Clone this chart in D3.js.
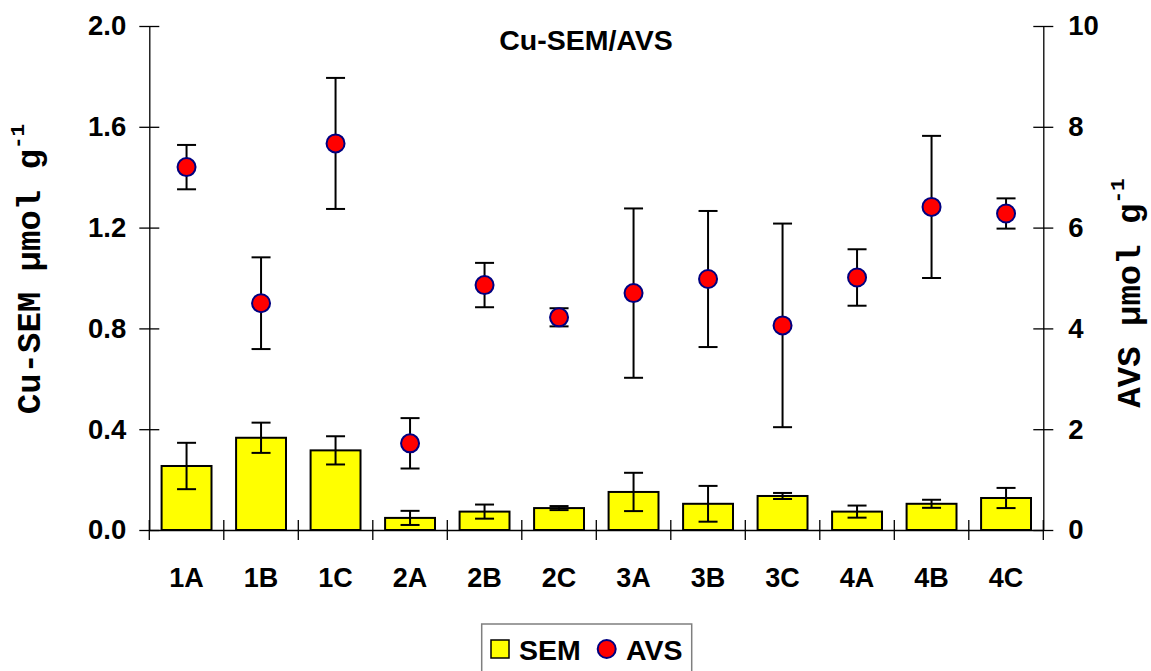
<!DOCTYPE html>
<html>
<head>
<meta charset="utf-8">
<script src="https://cdn.jsdelivr.net/npm/d3@7/dist/d3.min.js"></script>
<style>
  html, body { margin: 0; padding: 0; background: #fff; }
  svg { display: block; }
  .tick text { font-family: "Liberation Sans", Arial, sans-serif; font-weight: bold; }
</style>
</head>
<body>
<svg id="chart" width="1151" height="671"></svg>
<script>
// Sampling sites
const sites = ["1A", "1B", "1C", "2A", "2B", "2C", "3A", "3B", "3C", "4A", "4B", "4C"];

// Cu-SEM (µmol g-1), mean and standard deviation
const semMean = [0.254, 0.366, 0.316, 0.048, 0.073, 0.087, 0.151, 0.104, 0.135, 0.073, 0.104, 0.127];
const semSd   = [0.092, 0.060, 0.056, 0.028, 0.028, 0.008, 0.076, 0.071, 0.012, 0.024, 0.016, 0.040];

// AVS (µmol g-1), mean and standard deviation
const avsMean = [7.20, 4.50, 7.67, 1.72, 4.86, 4.22, 4.70, 4.98, 4.06, 5.01, 6.41, 6.28];
const avsSd   = [0.44, 0.91, 1.30, 0.50, 0.44, 0.18, 1.68, 1.35, 2.02, 0.56, 1.41, 0.30];

// Axis tick values
const leftTicks  = [0, 0.4, 0.8, 1.2, 1.6, 2.0];
const rightTicks = [0, 2, 4, 6, 8, 10];

const svg = d3.select("#chart");
const plotLeft = 149.3, plotRight = 1043.3, plotTop = 26, plotBottom = 530;

const x = d3.scaleBand().domain(sites).range([plotLeft, plotRight]).padding(0);
const yL = d3.scaleLinear().domain([0, 2]).range([plotBottom, plotTop]);
const yR = d3.scaleLinear().domain([0, 10]).range([plotBottom, plotTop]);

const sans = '"Liberation Sans", Arial, sans-serif';
const mono = '"Liberation Mono", "Courier New", monospace';

// Left axis with ticks crossing the line
const gL = svg.append("g").attr("transform", `translate(${plotLeft},0)`)
  .call(d3.axisLeft(yL).tickValues(leftTicks).tickSize(10).tickSizeOuter(0)
        .tickPadding(13).tickFormat(d3.format(".1f")));
gL.selectAll(".tick line").attr("x1", 10).attr("stroke-width", 1.3);
gL.select(".domain").attr("stroke-width", 1.3);
gL.selectAll(".tick text").attr("font-size", 27.5).attr("fill", "#000");

// Right axis
const gR = svg.append("g").attr("transform", `translate(${plotRight},0)`)
  .call(d3.axisRight(yR).tickValues(rightTicks).tickSize(10).tickSizeOuter(0)
        .tickPadding(15).tickFormat(d3.format("d")));
gR.selectAll(".tick line").attr("x1", -10).attr("stroke-width", 1.3);
gR.select(".domain").attr("stroke-width", 1.3);
gR.selectAll(".tick text").attr("font-size", 27.5).attr("fill", "#000");

// Bottom axis: labels centred under each site, ticks at category boundaries
const gB = svg.append("g").attr("transform", `translate(0,${plotBottom})`)
  .call(d3.axisBottom(x).tickSize(0).tickPadding(38));
gB.select(".domain").attr("stroke-width", 1.3);
gB.selectAll(".tick text").attr("font-size", 27).attr("fill", "#000");

const bounds = sites.map(s => x(s)).concat([x(sites[sites.length - 1]) + x.bandwidth()]);
svg.append("g").selectAll("line").data(bounds).join("line")
  .attr("x1", d => d).attr("x2", d => d)
  .attr("y1", plotBottom - 10).attr("y2", plotBottom + 10)
  .attr("stroke", "#000").attr("stroke-width", 1.3);

// SEM bars
const barW = x.bandwidth() * 0.67;
const capW = 19;
const semData = sites.map((s, i) => ({ s, m: semMean[i], sd: semSd[i] }));
const avsData = sites.map((s, i) => ({ s, m: avsMean[i], sd: avsSd[i] }));
const cx = s => x(s) + x.bandwidth() / 2;

svg.append("g").selectAll("rect").data(semData).join("rect")
  .attr("x", d => cx(d.s) - barW / 2)
  .attr("y", d => yL(d.m))
  .attr("width", barW)
  .attr("height", d => yL(0) - yL(d.m))
  .attr("fill", "#ffff00").attr("stroke", "#000").attr("stroke-width", 2);

function errorBars(data, scale) {
  const g = svg.append("g").attr("stroke", "#000").attr("stroke-width", 2);
  g.selectAll(".v").data(data).join("line")
    .attr("x1", d => cx(d.s)).attr("x2", d => cx(d.s))
    .attr("y1", d => scale(d.m - d.sd)).attr("y2", d => scale(d.m + d.sd));
  g.selectAll(".hi").data(data).join("line")
    .attr("x1", d => cx(d.s) - capW / 2).attr("x2", d => cx(d.s) + capW / 2)
    .attr("y1", d => scale(d.m + d.sd)).attr("y2", d => scale(d.m + d.sd));
  g.selectAll(".lo").data(data).join("line")
    .attr("x1", d => cx(d.s) - capW / 2).attr("x2", d => cx(d.s) + capW / 2)
    .attr("y1", d => scale(d.m - d.sd)).attr("y2", d => scale(d.m - d.sd));
}
errorBars(semData, yL);
errorBars(avsData, yR);

// AVS points
svg.append("g").selectAll("circle").data(avsData).join("circle")
  .attr("cx", d => cx(d.s)).attr("cy", d => yR(d.m)).attr("r", 9)
  .attr("fill", "#ff0000").attr("stroke", "#000080").attr("stroke-width", 2);

// Title
svg.append("text").attr("x", 586).attr("y", 50).attr("text-anchor", "middle")
  .attr("font-family", sans).attr("font-weight", "bold").attr("font-size", 28.5)
  .text("Cu-SEM/AVS");

// Axis titles (monospace, with superscript -1)
function axisTitle(tx, ty, label) {
  const t = svg.append("text")
    .attr("transform", `translate(${tx},${ty}) rotate(-90)`)
    .attr("text-anchor", "middle")
    .attr("font-family", mono).attr("font-weight", "bold").attr("font-size", 34);
  t.append("tspan").text(label);
  t.append("tspan").attr("font-size", 21).attr("dy", -16).text("-1");
}
axisTitle(40, 269, "Cu-SEM µmol g");
axisTitle(1140, 293, "AVS µmol g");

// Legend
const lg = svg.append("g");
lg.append("rect").attr("x", 481.7).attr("y", 624).attr("width", 210).attr("height", 60)
  .attr("fill", "#fff").attr("stroke", "#7f7f7f").attr("stroke-width", 1.5);
lg.append("rect").attr("x", 491).attr("y", 640).attr("width", 18).attr("height", 18)
  .attr("fill", "#ffff00").attr("stroke", "#000").attr("stroke-width", 1.5);
lg.append("text").attr("x", 519).attr("y", 660)
  .attr("font-family", sans).attr("font-weight", "bold").attr("font-size", 28.5).text("SEM");
lg.append("circle").attr("cx", 606.7).attr("cy", 649).attr("r", 9)
  .attr("fill", "#ff0000").attr("stroke", "#000080").attr("stroke-width", 2);
lg.append("text").attr("x", 626).attr("y", 660)
  .attr("font-family", sans).attr("font-weight", "bold").attr("font-size", 28.5).text("AVS");
</script>
</body>
</html>
